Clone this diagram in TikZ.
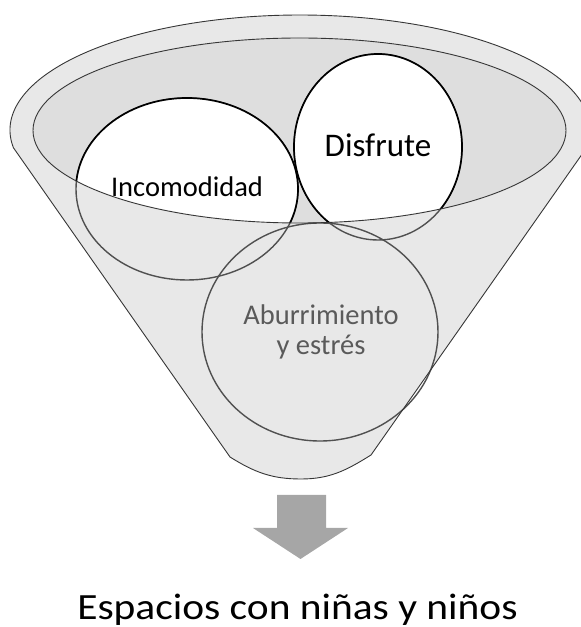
\documentclass[tikz,border=0pt]{standalone}
\usepackage{fontspec}
\setmainfont{Carlito}
\definecolor{funnelgray}{HTML}{E8E8E8}
\definecolor{innergray}{HTML}{DEDEDE}
\definecolor{backline}{HTML}{505050}
\definecolor{backtext}{HTML}{5A5A5A}
\definecolor{arrowgray}{HTML}{A6A6A6}
\definecolor{edgegray}{HTML}{363636}
\newcommand\funnelshape{(13.6,479) -- (230,170) to[out=-32,in=180] (301,148) to[out=0,in=-148] (371,172) -- (586.4,479) arc[start angle=-9,end angle=189,x radius=290,y radius=115] -- cycle}
\newcommand\innershape{(299.5,496.5) ellipse[x radius=266.5,y radius=92.5]}
\newcommand\incshape{(187,438) ellipse[x radius=111,y radius=91]}
\newcommand\disshape{(378,480) ellipse[x radius=84,y radius=93]}
\newcommand\abushape{(320,295) ellipse[x radius=118,y radius=109]}
\tikzset{
  backcircle/.style={draw=backline,line width=1.4pt},
  frontcircle/.style={draw=black,line width=1.7pt},
  edge/.style={draw=edgegray,line width=0.9pt},
  lbl/.style={inner sep=0pt,anchor=base}
}
\begin{document}
\begin{tikzpicture}[x=1pt,y=1pt]
\useasboundingbox (0,0) rectangle (581,627);
\clip (0,0) rectangle (581,627);
% funnel body
\fill[funnelgray] \funnelshape;
\fill[innergray] \innershape;
% circle behind the funnel front
\path[backcircle] \abushape;
\path[backcircle] \incshape;
\path[backcircle] \disshape;
% parts of the circles seen through the opening
\begin{scope}
  \clip \innershape;
  \fill[white] \incshape;
  \fill[white] \disshape;
  \path[frontcircle] \incshape;
  \path[frontcircle] \disshape;
\end{scope}
% funnel edges
\path[edge] \funnelshape;
\path[edge] \innershape;
% labels
\node[lbl,font=\fontsize{28.5}{30}\selectfont] (inc) at (187,430) {Incomodidad};
\node[lbl,font=\fontsize{33}{36}\selectfont] (dis) at (378,470) {Disfrute};
\node[lbl,font=\fontsize{28.5}{30}\selectfont,text=backtext] (abu1) at (321,302) {Aburrimiento};
\node[lbl,font=\fontsize{28.5}{30}\selectfont,text=backtext] (abu2) at (321,272) {y estrés};
% arrow
\fill[arrowgray] (277,132) -- (326,132) -- (326,99) -- (348,99) -- (300.5,68) -- (253,99) -- (277,99) -- cycle;
\node[lbl,font=\fontsize{37}{40}\selectfont,xscale=1.12] (out) at (297.5,8) {Espacios con niñas y niños};
\end{tikzpicture}
\end{document}
